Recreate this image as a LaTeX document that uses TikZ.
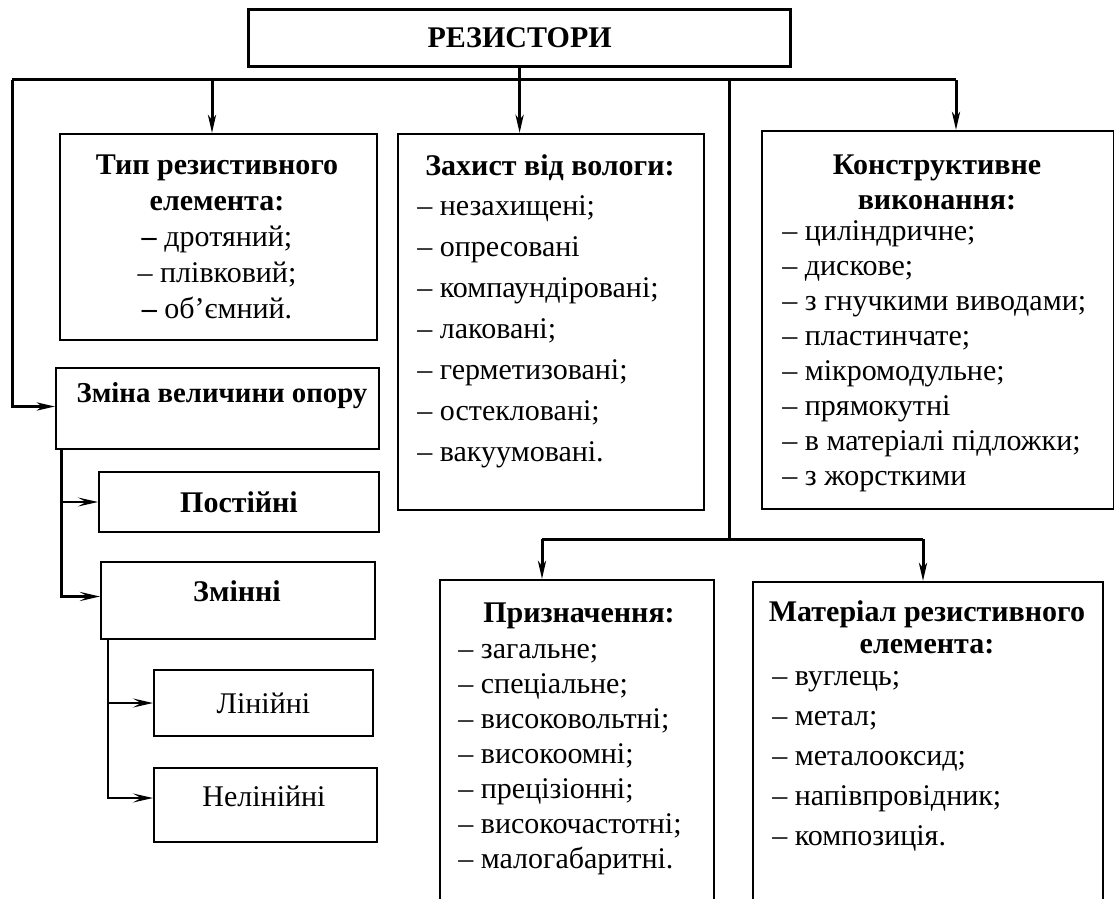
\documentclass[tikz,border=0pt]{standalone}
\usepackage{fontspec}
\setmainfont{Liberation Serif}
\usetikzlibrary{arrows.meta,positioning}

\begin{document}
\begin{tikzpicture}[x=0.5pt,y=-0.5pt,font=\fontsize{15}{18}\selectfont,
  box/.style={draw,line width=1pt,inner sep=0pt,anchor=north west},
  bus/.style={line width=1.5pt},
  feed/.style={-{Stealth[length=9pt,width=4pt,inset=2.5pt]},line width=1.5pt},
  side/.style={-{Stealth[length=10pt,width=4.5pt,inset=4pt]},line width=1pt},
  txt/.style={inner sep=0pt,anchor=north,align=center},
  list/.style={inner sep=0pt,anchor=north west,align=left,font=\fontsize{15}{#1}\selectfont}]
  \useasboundingbox (0,0) rectangle (1114,899);
  \clip (0,0) rectangle (1114,899);

  % boxes
  \node[box,line width=1.6pt,minimum width=271pt,minimum height=28.5pt] (res) at (247,8) {\textbf{РЕЗИСТОРИ}};
  \node[box,minimum width=158.5pt,minimum height=103pt] (tip) at (59,133) {};
  \node[box,minimum width=153pt,minimum height=188pt] (zah) at (397,133) {};
  \node[box,minimum width=176pt,minimum height=189pt] (kon) at (761,130) {};
  \node[box,minimum width=161.5pt,minimum height=40.5pt] (zmina) at (55,367) {};
  \node[box,minimum width=140pt,minimum height=30pt] (post) at (98,471) {\textbf{Постійні}};
  \node[box,minimum width=137pt,minimum height=38.5pt] (zmin) at (100,561) {};
  \node[box,minimum width=109.5pt,minimum height=33pt] (lin) at (153,669) {Лінійні};
  \node[box,minimum width=111.5pt,minimum height=37pt] (nelin) at (153,767) {};
  \node[box,minimum width=137pt,minimum height=180pt] (pryz) at (439,579) {};
  \node[box,minimum width=175pt,minimum height=180pt] (mat) at (752,581) {};

  % texts
  \node[txt] (tiptxt) at (217,154) {\textbf{Тип резистивного}\\ \textbf{елемента:}\\
    \textbf{–} дротяний;\\ – плівковий;\\ \textbf{–} об’ємний.};
  \node[txt] (zahhead) at (550,154) {\textbf{Захист від вологи:}};
  \node[list=20.5pt] (zahlist) at (417,195) {– незахищені;\\ – опресовані\\ – компаундіровані;\\
    – лаковані;\\ – герметизовані;\\ – остекловані;\\ – вакуумовані.};
  \node[txt,font=\fontsize{15}{17.5}\selectfont] (konhead) at (937,154) {\textbf{Конструктивне}\\ \textbf{виконання:}};
  \node[list=17.5pt] (konlist) at (782,220) {– циліндричне;\\ – дискове;\\ – з гнучкими виводами;\\
    – пластинчате;\\ – мікромодульне;\\ – прямокутні\\ – в матеріалі підложки;\\ – з жорсткими};
  \node[inner sep=0pt,font=\fontsize{14.4}{18}\selectfont] (zminatxt) at (222,396) {\textbf{Зміна величини опору}};
  \node[inner sep=0pt] (zmintxt) at (237,591) {\textbf{Змінні}};
  \node[inner sep=0pt] (nelintxt) at (264,796) {Нелінійні};
  \node[txt] (pryzhead) at (579,602) {\textbf{Призначення:}};
  \node[list=17.5pt] (pryzlist) at (458,644) {– загальне;\\ – спеціальне;\\ – високовольтні;\\
    – високоомні;\\ – прецізіонні;\\ – високочастотні;\\ – малогабаритні.};
  \node[txt,font=\fontsize{15}{16}\selectfont] (mathead) at (927,600) {\textbf{Матеріал резистивного}\\ \textbf{елемента:}};
  \node[list=20pt] (matlist) at (772,671) {– вуглець;\\ – метал;\\ – металооксид;\\
    – напівпровідник;\\ – композиція.};

  % bus lines
  \coordinate (bl) at (12,80);
  \coordinate (bt) at (212,80);
  \coordinate (bm) at (729,80);
  \coordinate (br) at (956,80);
  \coordinate (bd) at (729,539);
  \coordinate (dl) at (542,539);
  \coordinate (dr) at (923,539);
  \draw[bus] (bl) -- (br);
  \draw[bus] (bm) -- (bd);
  \draw[bus] (dl) -- (dr);
  \draw[feed] (res.south) -- (res.south |- zah.north);
  \draw[feed] (bt) -- (bt |- tip.north);
  \draw[feed] (br) -- (br |- kon.north);
  \draw[feed] (bl) |- ([yshift=1pt]zmina.west);
  \draw[feed] (dl) -- (dl |- pryz.north);
  \draw[feed] (dr) -- (dr |- mat.north);

  % left branches
  \coordinate (z1) at ([xshift=3pt]zmina.south west);
  \coordinate (z2) at ([xshift=4pt]zmin.south west);
  \draw[side,line width=1.5pt] (z1) |- ([yshift=2pt]zmin.west);
  \draw[side] (z1 |- post.west) -- (post.west);
  \draw[side] (z2) |- ([yshift=3.5pt]nelin.west);
  \draw[side] (z2 |- lin.west) -- (lin.west);
\end{tikzpicture}
\end{document}
